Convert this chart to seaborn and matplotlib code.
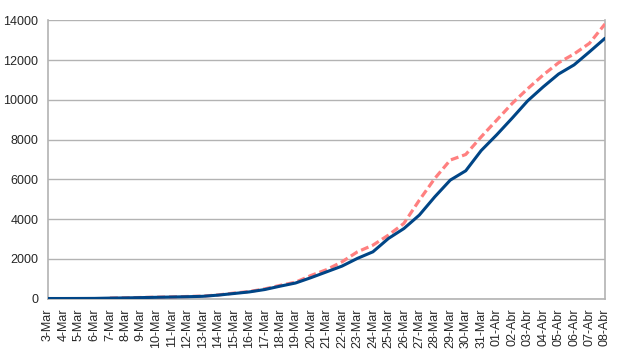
import pandas as pd
import numpy as np
import matplotlib
matplotlib.use('Agg')
import matplotlib.pyplot as plt
import seaborn as sns

# day labels as they appear on the x axis
dias = ['3-Mar', '4-Mar', '5-Mar', '6-Mar', '7-Mar', '8-Mar', '9-Mar', '10-Mar',
        '11-Mar', '12-Mar', '13-Mar', '14-Mar', '15-Mar', '16-Mar', '17-Mar',
        '18-Mar', '19-Mar', '20-Mar', '21-Mar', '22-Mar', '23-Mar', '24-Mar',
        '25-Mar', '26-Mar', '27-Mar', '28-Mar', '29-Mar', '30-Mar', '31-Mar',
        '01-Abr', '02-Abr', '03-Abr', '04-Abr', '05-Abr', '06-Abr', '07-Abr', '08-Abr']

# solid blue series
serie_a = [0, 0, 2, 5, 20, 30, 45, 60, 75, 90, 110, 170, 250, 330, 450, 620, 780,
           1050, 1340, 1630, 2020, 2350, 3020, 3520, 4200, 5120, 5960, 6430, 7450,
           8240, 9080, 9950, 10650, 11300, 11760, 12420, 13100]

# dashed red series (starts on 7-Mar)
serie_b = [np.nan, np.nan, np.nan, np.nan, 20, 35, 50, 65, 80, 100, 120, 180, 270,
           350, 480, 660, 820, 1160, 1450, 1845, 2350, 2685, 3190, 3780, 4950, 6045,
           6970, 7250, 8140, 8980, 9820, 10560, 11250, 11870, 12310, 12850, 13820]

df = pd.DataFrame({'pos': range(len(dias)), 'dia': dias, 'a': serie_a, 'b': serie_b})

sns.set_style('white')
plt.rcParams['font.family'] = ['Liberation Sans', 'DejaVu Sans']

fig = plt.figure(figsize=(6.19, 3.56), dpi=100)
ax = fig.add_axes([48 / 619, 1 - 298.5 / 356, (605 - 48) / 619, (298.5 - 20.4) / 356])

sns.lineplot(data=df, x='pos', y='b', ax=ax, color='#ff8080', linewidth=2.3,
             dashes=False, zorder=3)
ax.lines[-1].set_dashes((2.5, 1.2))
sns.lineplot(data=df, x='pos', y='a', ax=ax, color='#004586', linewidth=2.2, zorder=4)

ax.set_xlim(0, len(dias) - 1)
ax.set_ylim(0, 14000)
ax.set_xticks(df['pos'])
ax.set_xticklabels(dias, rotation=90, fontsize=9)
ax.set_yticks(range(0, 14001, 2000))
ax.tick_params(axis='y', labelsize=9, length=5, color='#b3b3b3', pad=2)
ax.tick_params(axis='x', length=5, color='#b3b3b3', pad=2)
ax.set_xlabel('')
ax.set_ylabel('')

ax.grid(axis='y', color='#b3b3b3', linewidth=1)
ax.set_axisbelow(True)
for s in ['left', 'bottom', 'right']:
    ax.spines[s].set_color('#b3b3b3')
    ax.spines[s].set_linewidth(1.2)
ax.spines['top'].set_visible(False)

plt.savefig('out.png', dpi=100)
